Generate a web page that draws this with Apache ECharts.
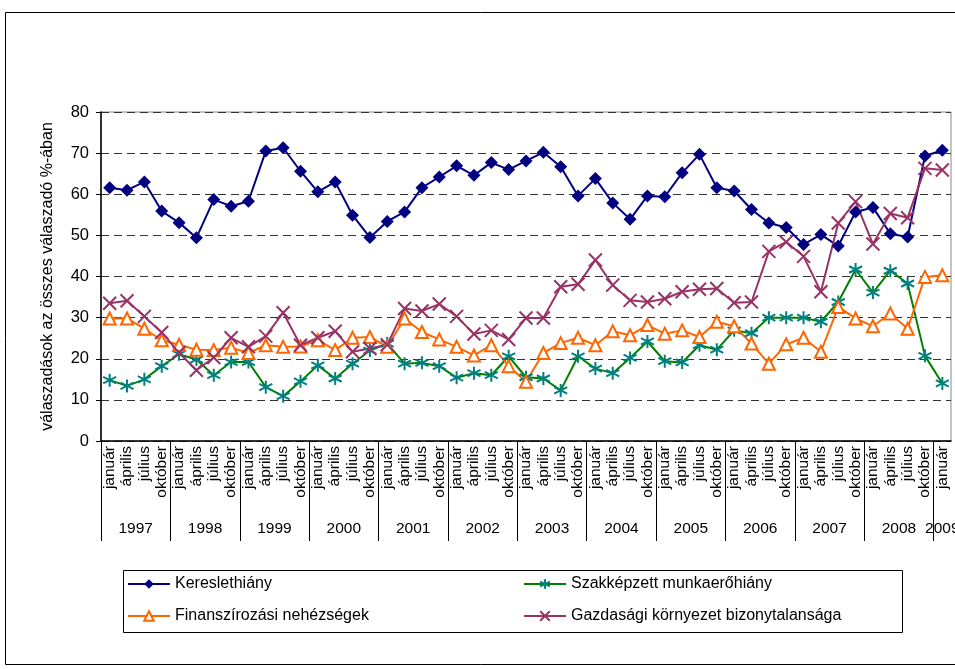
<!DOCTYPE html>
<html>
<head>
<meta charset="utf-8">
<script src="https://cdn.jsdelivr.net/npm/echarts@6/dist/echarts.min.js"></script>
<style>
  html, body { margin: 0; padding: 0; background: #fff; }
  #chart { width: 955px; height: 669px; }
</style>
</head>
<body>
<div id="chart"></div>
<script>
// evek es negyedevek (2009-bol csak januar)
var years = ['1997', '1998', '1999', '2000', '2001', '2002', '2003', '2004', '2005', '2006', '2007', '2008', '2009']
var months = ['január', 'április', 'július', 'október']
var yTicks = [0, 10, 20, 30, 40, 50, 60, 70, 80]

var kereslet = [61.6, 61.0, 63.0, 55.9, 53.1, 49.4, 58.7, 57.1, 58.3, 70.5, 71.3, 65.6,
  60.6, 63.0, 54.9, 49.5, 53.4, 55.7, 61.6, 64.2, 66.9, 64.6, 67.7, 66.0,
  68.1, 70.2, 66.7, 59.6, 63.8, 57.9, 53.9, 59.6, 59.4, 65.2, 69.7, 61.6,
  60.8, 56.3, 53.0, 51.9, 47.8, 50.2, 47.4, 55.7, 56.8, 50.4, 49.6, 69.3, 70.7]
var szakkepzett = [14.8, 13.4, 15.0, 18.2, 21.1, 19.8, 16.0, 19.2, 19.2, 13.1, 10.9, 14.5,
  18.4, 15.2, 18.8, 22.0, 23.7, 18.8, 19.0, 18.2, 15.4, 16.5, 16.0, 20.6,
  15.5, 15.2, 12.3, 20.6, 17.6, 16.5, 20.2, 24.2, 19.4, 19.1, 23.3, 22.2,
  26.9, 26.2, 30.0, 30.0, 30.0, 29.0, 33.8, 41.7, 36.1, 41.4, 38.3, 20.7, 14.0]
var finansz = [29.8, 29.8, 27.3, 24.5, 23.4, 22.2, 22.1, 22.7, 21.4, 23.3, 22.9, 23.0,
  24.5, 22.1, 25.1, 25.3, 22.9, 29.8, 26.5, 24.7, 22.9, 20.8, 23.3, 18.2,
  14.4, 21.4, 23.8, 25.1, 23.3, 26.7, 25.7, 28.2, 26.1, 26.9, 25.3, 29.0,
  27.9, 23.7, 18.8, 23.5, 25.1, 21.7, 32.6, 29.8, 27.9, 31.0, 27.3, 39.9, 40.3]
var gazdasagi = [33.5, 34.1, 30.3, 26.4, 21.5, 17.2, 20.3, 25.1, 22.9, 25.5, 31.2, 23.3,
  25.1, 26.7, 21.7, 22.5, 23.4, 32.2, 31.6, 33.3, 30.3, 26.0, 26.9, 24.7,
  29.9, 29.9, 37.5, 38.1, 44.0, 37.9, 34.2, 33.8, 34.6, 36.3, 36.9, 37.1,
  33.6, 33.8, 46.1, 48.4, 44.9, 36.3, 53.0, 58.2, 47.9, 55.3, 54.3, 66.3, 65.9]

var categories = []
years.forEach(function(y, i) {
  var n = i === years.length - 1 ? 1 : 4
  for (var k = 0; k < n; k++) categories.push(months[k])
})

// evhatarok es evcimkek helye a masodik (ertek) tengelyen
var yearBounds = []
var yearCenters = []
years.forEach(function(y, i) {
  yearBounds.push(i * 4)
  var end = Math.min(i * 4 + 4, categories.length)
  yearCenters.push((i * 4 + end) / 2)
})

var FONT = 'Liberation Sans, Arial, sans-serif'
var asterisk = 'path://M0,-1L0,1M-0.87,-0.5L0.87,0.5M-0.87,0.5L0.87,-0.5'
var cross = 'path://M-1,-1L1,1M-1,1L1,-1'

var chart = echarts.init(document.getElementById('chart'))
chart.setOption({
  animation: false,
  textStyle: { fontFamily: FONT, color: '#000' },
  grid: {
    left: 101,
    right: 4,
    top: 112,
    bottom: 228,
    show: true,
    borderColor: '#888',
    borderWidth: 1,
    containLabel: false,
    outerBoundsMode: 'none'
  },
  legend: [
    {
      left: 127,
      top: 576,
      padding: 0,
      orient: 'vertical',
      itemWidth: 42,
      itemHeight: 12,
      itemGap: 16,
      textStyle: { fontSize: 16, fontFamily: FONT, color: '#000' },
      data: ['Kereslethiány', 'Finanszírozási nehézségek']
    },
    {
      left: 523,
      top: 576,
      padding: 0,
      orient: 'vertical',
      itemWidth: 42,
      itemHeight: 12,
      itemGap: 16,
      textStyle: { fontSize: 16, fontFamily: FONT, color: '#000' },
      data: ['Szakképzett munkaerőhiány', 'Gazdasági környezet bizonytalansága']
    }
  ],
  graphic: [
    { type: 'rect', shape: { x: 5.5, y: 12.5, width: 970, height: 652 }, style: { fill: 'none', stroke: '#000', lineWidth: 1 }, silent: true },
    { type: 'rect', shape: { x: 123.5, y: 570.5, width: 779, height: 62 }, style: { fill: 'none', stroke: '#000', lineWidth: 1 }, silent: true }
  ],
  xAxis: [
    {
      type: 'category',
      data: categories,
      boundaryGap: true,
      axisLine: { lineStyle: { color: '#000', width: 1.5 } },
      axisTick: { interval: 0, length: 65, lineStyle: { color: '#000' } },
      axisLabel: { interval: 0, rotate: 90, margin: 5, fontSize: 15.5, color: '#000', fontFamily: FONT },
      splitLine: { show: false }
    },
    {
      type: 'value',
      min: 0,
      max: categories.length,
      position: 'bottom',
      axisLine: { show: false },
      axisTick: { show: true, length: 100, customValues: yearBounds, lineStyle: { color: '#000' } },
      axisLabel: {
        show: true,
        customValues: yearCenters,
        margin: 80,
        fontSize: 15.5,
        color: '#000',
        fontFamily: FONT,
        hideOverlap: false,
        showMinLabel: true,
        showMaxLabel: true,
        formatter: function(v) {
          return years[Math.floor(v / 4)]
        }
      },
      splitLine: { show: false }
    }
  ],
  yAxis: {
    type: 'value',
    min: yTicks[0],
    max: yTicks[yTicks.length - 1],
    interval: 10,
    name: 'válaszadások az összes válaszadó %-ában',
    nameLocation: 'middle',
    nameGap: 45,
    nameTextStyle: { fontSize: 16, color: '#000', fontFamily: FONT },
    axisLine: { show: true, lineStyle: { color: '#000', width: 1.5 } },
    axisTick: { show: true, length: 5, lineStyle: { color: '#000' } },
    axisLabel: { fontSize: 16.5, margin: 12, color: '#000', fontFamily: FONT },
    splitLine: { lineStyle: { color: '#333', type: [8, 5], width: 1 } }
  },
  series: [
    {
      name: 'Kereslethiány',
      type: 'line',
      data: kereslet,
      symbol: 'diamond',
      symbolSize: 13,
      lineStyle: { color: '#000080', width: 2 },
      itemStyle: { color: '#000080' }
    },
    {
      name: 'Szakképzett munkaerőhiány',
      type: 'line',
      data: szakkepzett,
      symbol: asterisk,
      symbolSize: 13,
      lineStyle: { color: '#008000', width: 2 },
      itemStyle: { color: '#008080', borderColor: '#008080', borderWidth: 2 }
    },
    {
      name: 'Finanszírozási nehézségek',
      type: 'line',
      data: finansz,
      symbol: 'triangle',
      symbolSize: 12,
      lineStyle: { color: '#FF6600', width: 2 },
      itemStyle: { color: '#fff', borderColor: '#FF6600', borderWidth: 2 }
    },
    {
      name: 'Gazdasági környezet bizonytalansága',
      type: 'line',
      data: gazdasagi,
      symbol: cross,
      symbolSize: 13,
      lineStyle: { color: '#993366', width: 2 },
      itemStyle: { color: '#993366', borderColor: '#993366', borderWidth: 2 }
    }
  ]
})
</script>
</body>
</html>
